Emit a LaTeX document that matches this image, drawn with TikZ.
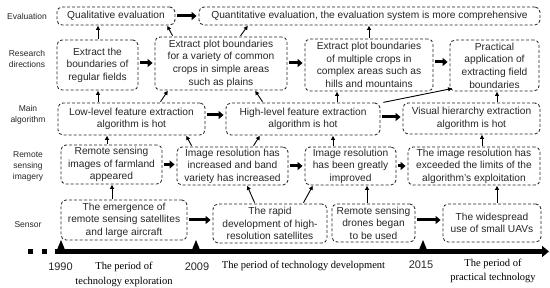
\documentclass[tikz,border=0pt]{standalone}
\usepackage{fontspec}
\setmainfont{Liberation Sans}
\newfontfamily\tnr{Liberation Serif}
\usetikzlibrary{arrows.meta,calc}
\newcommand\bxf{\fontsize{10.2pt}{12.6pt}\selectfont}
\newcommand\lbf{\fontsize{8.5pt}{11pt}\selectfont}
\begin{document}
\begin{tikzpicture}[x=1pt,y=-1pt,
  box/.style={draw=black!85, dash pattern=on 3pt off 2pt, line width=0.85pt,
    rounded corners=5pt, align=center, inner sep=1pt, font=\bxf, text=black!85},
  rowlabel/.style={align=center, font=\lbf, inner sep=0pt, text=black!85},
  conn/.style={-{Triangle[length=4pt,width=4pt]}, line width=0.9pt, shorten <=1pt, shorten >=0.5pt},
  fat/.style={-{Triangle[length=5pt,width=8pt]}, line width=3pt, shorten <=2pt, shorten >=2pt},
  year/.style={font=\fontsize{11pt}{13pt}\selectfont, inner sep=0pt, text=black!85},
  period/.style={font=\tnr\fontsize{10.5pt}{14.5pt}\selectfont, align=center, inner sep=0pt}]
\useasboundingbox (0,0) rectangle (550,288);

% row labels
\node[rowlabel] (lEval) at (27,16) {Evaluation};
\node[rowlabel] (lRes) at (27,58.5) {Research\\directions};
\node[rowlabel] (lAlg) at (28,115) {Main\\algorithm};
\node[rowlabel] (lImg) at (28,166) {Remote\\sensing\\imagery};
\node[rowlabel] (lSen) at (28,225) {Sensor};

% evaluation row
\node[box, minimum width=118pt, minimum height=18pt] (qual) at (116,16) {Qualitative evaluation};
\node[box, minimum width=341pt, minimum height=18pt] (quant) at (369.5,16) {Quantitative evaluation, the evaluation system is more comprehensive};

% research directions
\node[box, minimum width=81pt, minimum height=50pt] (regular) at (97.5,65) {Extract the\\boundaries of\\regular fields};
\node[box, minimum width=132pt, minimum height=53pt] (variety) at (221,63.5) {Extract plot boundaries\\for a variety of common\\crops in simple areas\\such as plains};
\node[box, minimum width=128pt, minimum height=52pt] (multi) at (369,65) {Extract plot boundaries\\of multiple crops in\\complex areas such as\\hills and mountains};
\node[box, minimum width=89pt, minimum height=51pt] (practical) at (494.5,65.5) {Practical\\application of\\extracting field\\boundaries};

% main algorithm
\node[box, minimum width=147pt, minimum height=32pt] (low) at (131.5,119) {Low-level feature extraction\\algorithm is hot};
\node[box, minimum width=154pt, minimum height=32pt] (high) at (303,119) {High-level feature extraction\\algorithm is hot};
\node[box, minimum width=137pt, minimum height=31pt] (visual) at (471.5,118.5) {Visual hierarchy extraction\\algorithm is hot};

% remote sensing imagery
\node[box, minimum width=101pt, minimum height=39pt] (rsimg) at (111.5,164.5) {Remote sensing\\images of farmland\\appeared};
\node[box, minimum width=111pt, minimum height=38pt] (incr) at (232.5,166) {Image resolution has\\increased and band\\variety has increased};
\node[box, minimum width=91pt, minimum height=38pt] (improved) at (350.5,166) {Image resolution\\has been greatly\\improved};
\node[box, minimum width=132pt, minimum height=38pt] (exceeded) at (474,166) {The image resolution has\\exceeded the limits of the\\algorithm’s exploitation};

% sensor
\node[box, minimum width=126pt, minimum height=40pt] (emerg) at (124,220) {The emergence of\\remote sensing satellites\\and large aircraft};
\node[box, minimum width=114pt, minimum height=39pt] (rapid) at (270,223.5) {The rapid\\development of high-\\resolution satellites};
\node[box, minimum width=83pt, minimum height=38pt] (drones) at (373.5,223) {Remote sensing\\drones began\\to be used};
\node[box, minimum width=98pt, minimum height=38pt] (uav) at (492,223) {The widespread\\use of small UAVs};

% fat horizontal arrows
\draw[fat] (qual.east) -- (quant.west);
\draw[fat] ($(regular.east)+(0,-2)$) -- ($(regular.east -| variety.west)+(0,-2)$);
\draw[fat] ($(variety.east)+(0,-0.5)$) -- ($(variety.east -| multi.west)+(0,-0.5)$);
\draw[fat] ($(multi.east)+(0,-3)$) -- ($(multi.east -| practical.west)+(0,-3)$);
\draw[fat] ($(low.east)+(0,-4)$) -- ($(low.east -| high.west)+(0,-4)$);
\draw[fat] ($(high.east)+(0,-2)$) -- ($(high.east -| visual.west)+(0,-2)$);
\draw[fat] (rsimg.east) -- (rsimg.east -| incr.west);
\draw[fat] (incr.east) -- (improved.west);
\draw[fat] (improved.east) -- (exceeded.west);
\draw[fat] (emerg.east) -- (emerg.east -| rapid.west);
\draw[fat] ($(drones.east)+(0,-3)$) -- ($(drones.east -| uav.west)+(0,-3)$);

% thin connectors
\draw[conn] (low.north -| 98,0) -- (regular.south -| 98,0);
\draw[conn] (regular.north -| 98,0) -- (qual.south -| 98,0);
\draw[conn] (variety.north -| 173,0) -- (qual.south -| 167,0);
\draw[conn] (variety.north -| 240,0) -- (quant.south -| 248,0);
\draw[conn] (multi.north -| 369,0) -- (quant.south -| 369,0);
\draw[conn] (low.north -| 160,0) -- (variety.south -| 168,0);
\draw[conn] (high.north -| 263,0) -- (variety.south -| 255,0);
\draw[conn] (high.north -| 337,0) -- (multi.south -| 337,0);
\draw[conn] ($(high.north east)+(2,0)$) -- ($(practical.south west)+(3,-3)$);
\draw[conn] (visual.north -| 497,0) -- (practical.south -| 497,0);
\draw[conn] (rsimg.north -| 107,0) -- (low.south -| 107,0);
\draw[conn] (incr.north -| 192,0) -- (low.south -| 186,0);
\draw[conn] (incr.north -| 253,0) -- (high.south -| 260,0);
\draw[conn] (improved.north -| 333,0) -- (high.south -| 333,0);
\draw[conn] (exceeded.north -| 482,0) -- (visual.south -| 482,0);
\draw[conn] (emerg.north -| 112,0) -- (rsimg.south -| 112,0);
\draw[conn] (rapid.north -| 255,0) -- (incr.south -| 247,0);
\draw[conn] (rapid.north -| 303,0) -- (improved.south -| 313,0);
\draw[conn] (drones.north -| 367,0) -- (improved.south -| 367,0);
\draw[conn] (uav.north -| 497,0) -- (exceeded.south -| 497,0);

% timeline
\coordinate (t0) at (55,251.5);
\coordinate (t1) at (549,251.5);
\draw[line width=5pt, -{Triangle[length=7pt,width=11pt]}] (t0) -- (t1);
\fill (28,249) rectangle (33,254);
\fill (42,249) rectangle (47,254);
\coordinate (m1) at (61,251);
\coordinate (m2) at (196,251);
\coordinate (m3) at (423,251);
\foreach \m in {m1,m2,m3}{
  \fill ($(\m)+(-4.5,0)$) -- ($(\m)+(0,-11)$) -- ($(\m)+(4.5,0)$) -- cycle;
}
\node[year] (y1) at (60.5,267) {1990};
\node[year] (y2) at (197,267) {2009};
\node[year] (y3) at (421,265) {2015};
\node[period] (p1) at (124,274.5) {The period of\\technology exploration};
\node[period] (p2) at (303.5,266) {The period of technology development};
\node[period] (p3) at (493,271) {The period of\\practical technology};
\end{tikzpicture}
\end{document}
